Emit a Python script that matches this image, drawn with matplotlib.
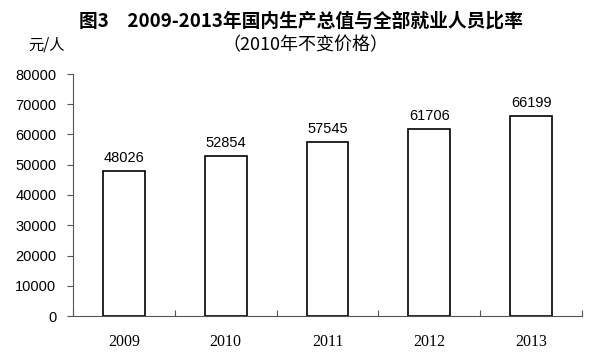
import matplotlib
matplotlib.use("Agg")
import matplotlib.pyplot as plt
import numpy as np

years = ["2009", "2010", "2011", "2012", "2013"]
values = [48026, 52854, 57545, 61706, 66199]
yticks = [0, 10000, 20000, 30000, 40000, 50000, 60000, 70000, 80000]

fig = plt.figure(figsize=(6.0, 3.54), dpi=100)
ax = fig.add_axes([73/600, 38/354, 509/600, 242/354])

x = np.arange(len(years))
ax.bar(x, values, width=0.41, facecolor="white", edgecolor="black", linewidth=1.2)
for xi, v in zip(x, values):
    ax.text(xi, v + 2000, str(v), ha="center", va="bottom",
            fontsize=10.5, family=["Liberation Sans", "DejaVu Sans"])

ax.set_xlim(-0.5, len(years) - 0.5)
ax.set_ylim(0, 80000)
ax.set_yticks(yticks)
ax.set_yticklabels([str(t) for t in yticks], fontsize=10.5, family=["Liberation Sans"])
ax.set_xticks(x)
ax.set_xticklabels(years, fontsize=11.5, family=["Liberation Serif"])
ax.set_xticks(np.arange(len(years) + 1) - 0.5, minor=True)
ax.tick_params(axis="x", which="major", length=0, pad=13)
ax.tick_params(axis="x", which="minor", direction="in", length=4, width=0.8, color="#555555")
ax.tick_params(axis="y", direction="out", length=4, width=0.8, color="#555555", pad=8)

for s in ["top", "right"]:
    ax.spines[s].set_visible(False)
for s in ["left", "bottom"]:
    ax.spines[s].set_color("#555555")
    ax.spines[s].set_linewidth(0.8)

cjk = ["Noto Sans CJK SC", "DejaVu Sans"]
fig.text(301/600, 1 - 21/354, "图3　2009-2013年国内生产总值与全部就业人员比率",
         ha="center", va="center", fontsize=13.5, fontweight="bold", family=cjk)
fig.text(305/600, 1 - 45/354, "（2010年不变价格）",
         ha="center", va="center", fontsize=13, family=cjk)
fig.text(47/600, 1 - 45/354, "元/人", ha="center", va="center", fontsize=11, family=cjk)

fig.savefig("out.png", dpi=100)
